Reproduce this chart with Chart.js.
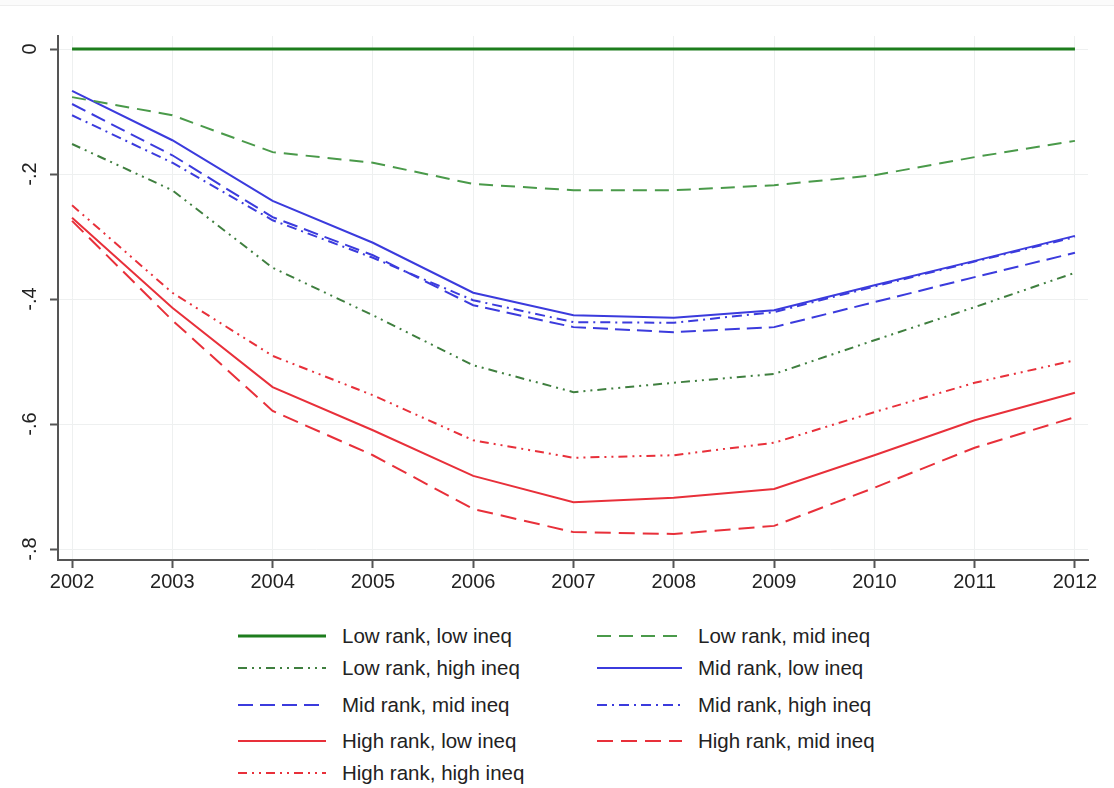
<!DOCTYPE html>
<html>
<head>
<meta charset="utf-8">
<title>Effects by rank and inequality, 2002-2012</title>
<script src="https://cdn.jsdelivr.net/npm/chart.js@4/dist/chart.umd.min.js"></script>
<style>
  html, body { margin: 0; padding: 0; background: #ffffff; }
  body { width: 1114px; height: 788px; position: relative; overflow: hidden;
         font-family: "Liberation Sans", Arial, Helvetica, sans-serif; }
  #topline { position: absolute; left: 0; top: 0; width: 1114px; height: 5px;
             background: #fbfbfb; border-bottom: 1px solid #eeeeee; }
  #wrap { position: absolute; left: 0; top: 0; width: 1114px; height: 600px; }
  .lg { position: absolute; height: 30px; display: flex; align-items: center; }
  .lg svg { display: block; }
  .lg span { font-size: 20.5px; color: #222; white-space: nowrap; margin-left: 16px; }
</style>
</head>
<body>
<div id="topline"></div>
<div id="wrap"><canvas id="c"></canvas></div>
<div id="legend"></div>
<script>
// Years on the horizontal axis
const years = [2002, 2003, 2004, 2005, 2006, 2007, 2008, 2009, 2010, 2011, 2012];

// Y axis tick values and their labels
const yTickValues = [0, -0.2, -0.4, -0.6, -0.8];
const yTickLabels = ["0", "-.2", "-.4", "-.6", "-.8"];

// Series values by group (rank x inequality)
const lowRankLowIneq   = [0, 0, 0, 0, 0, 0, 0, 0, 0, 0, 0];
const lowRankMidIneq   = [-0.077, -0.106, -0.165, -0.182, -0.216, -0.226, -0.226, -0.218, -0.202, -0.173, -0.147];
const lowRankHighIneq  = [-0.152, -0.226, -0.350, -0.426, -0.506, -0.549, -0.534, -0.520, -0.466, -0.413, -0.358];
const midRankLowIneq   = [-0.067, -0.146, -0.243, -0.310, -0.390, -0.426, -0.430, -0.418, -0.378, -0.339, -0.299];
const midRankMidIneq   = [-0.088, -0.170, -0.269, -0.330, -0.410, -0.445, -0.453, -0.445, -0.405, -0.365, -0.326];
const midRankHighIneq  = [-0.106, -0.182, -0.274, -0.334, -0.402, -0.437, -0.438, -0.421, -0.380, -0.340, -0.301];
const highRankLowIneq  = [-0.270, -0.414, -0.541, -0.610, -0.683, -0.725, -0.718, -0.704, -0.650, -0.594, -0.550];
const highRankMidIneq  = [-0.275, -0.434, -0.579, -0.650, -0.736, -0.773, -0.776, -0.763, -0.702, -0.638, -0.589];
const highRankHighIneq = [-0.250, -0.390, -0.491, -0.554, -0.626, -0.654, -0.650, -0.630, -0.581, -0.534, -0.498];

// Series names, in legend order
const seriesNames = [
  "Low rank, low ineq", "Low rank, mid ineq",
  "Low rank, high ineq", "Mid rank, low ineq",
  "Mid rank, mid ineq", "Mid rank, high ineq",
  "High rank, low ineq", "High rank, mid ineq",
  "High rank, high ineq"
];
const seriesValues = [
  lowRankLowIneq, lowRankMidIneq, lowRankHighIneq,
  midRankLowIneq, midRankMidIneq, midRankHighIneq,
  highRankLowIneq, highRankMidIneq, highRankHighIneq
];

// Line styling per series
const GREEN = "#1d7d1d", GREEN2 = "#4a9a4a", GREEN3 = "#3f7f3f";
const BLUE = "#3b3bdd", RED = "#e8303a";
const styles = [
  { color: GREEN,  width: 3,   dash: [] },
  { color: GREEN2, width: 2,   dash: [14, 8] },
  { color: GREEN3, width: 2,   dash: [9, 5, 2, 5, 2, 5] },
  { color: BLUE,   width: 2,   dash: [] },
  { color: BLUE,   width: 2,   dash: [15, 7] },
  { color: BLUE,   width: 2,   dash: [10, 5, 2, 5] },
  { color: RED,    width: 2,   dash: [] },
  { color: RED,    width: 2,   dash: [16, 8] },
  { color: RED,    width: 2,   dash: [9, 5, 2, 5, 2, 5] }
];

const datasets = seriesNames.map((name, i) => ({
  label: name,
  data: years.map((yr, j) => ({ x: yr, y: seriesValues[i][j] })),
  borderColor: styles[i].color,
  borderWidth: styles[i].width,
  borderDash: styles[i].dash,
  pointRadius: 0,
  pointHoverRadius: 0,
  tension: 0,
  fill: false
}));

const tickFont = { family: "'Liberation Sans', Arial, Helvetica, sans-serif", size: 20 };

// Rotated y-axis labels, placed at the scale's own tick pixels
const rotatedYLabels = {
  id: "rotatedYLabels",
  afterDraw(chart) {
    const ys = chart.scales.y;
    const ctx = chart.ctx;
    ctx.save();
    ctx.fillStyle = "#222";
    ctx.font = "20px 'Liberation Sans', Arial, Helvetica, sans-serif";
    ctx.textAlign = "center";
    ctx.textBaseline = "middle";
    yTickValues.forEach((v, i) => {
      const py = ys.getPixelForValue(v);
      ctx.save();
      ctx.translate(30, py);
      ctx.rotate(-Math.PI / 2);
      ctx.fillText(yTickLabels[i], 0, 0);
      ctx.restore();
    });
    ctx.restore();
  }
};

new Chart(document.getElementById("c"), {
  type: "line",
  data: { datasets },
  options: {
    responsive: true,
    maintainAspectRatio: false,
    animation: false,
    events: [],
    layout: { padding: { top: 36, right: 26, left: 0, bottom: 0 } },
    plugins: { legend: { display: false }, tooltip: { enabled: false } },
    scales: {
      x: {
        type: "linear",
        min: 2001.86,
        max: 2012.13,
        afterFit(scale) { scale.height = 40; },
        afterBuildTicks(scale) { scale.ticks = years.map(v => ({ value: v })); },
        ticks: {
          includeBounds: false,
          autoSkip: false,
          maxRotation: 0,
          minRotation: 0,
          padding: 2,
          color: "#222",
          font: tickFont,
          callback: (v) => String(v)
        },
        grid: { color: "#eef0f0", lineWidth: 1, tickLength: 8, tickColor: "#555", tickWidth: 2 },
        border: { color: "#555", width: 2 }
      },
      y: {
        type: "linear",
        min: -0.8176,
        max: 0.0208,
        afterFit(scale) { scale.width = 58; },
        afterBuildTicks(scale) { scale.ticks = yTickValues.map(v => ({ value: v })); },
        ticks: { display: false },
        grid: { color: "#eef0f0", lineWidth: 1, tickLength: 8, tickColor: "#555", tickWidth: 2 },
        border: { color: "#555", width: 2 }
      }
    }
  },
  plugins: [rotatedYLabels]
});

// Two-column legend below the plot
const legendRows = [636, 668, 705, 741, 773];
const legendEl = document.getElementById("legend");
seriesNames.forEach((name, i) => {
  const col = i % 2, row = Math.floor(i / 2);
  const left = col === 0 ? 238 : 597;
  const w = col === 0 ? 88 : 85;
  const item = document.createElement("div");
  item.className = "lg";
  item.style.left = left + "px";
  item.style.top = (legendRows[row] - 15) + "px";
  const s = styles[i];
  item.innerHTML =
    '<svg width="' + w + '" height="10"><line x1="0" y1="5" x2="' + w + '" y2="5" stroke="' + s.color +
    '" stroke-width="' + s.width + '" stroke-dasharray="' + (s.dash.length ? s.dash.join(",") : "none") +
    '"/></svg><span>' + name + '</span>';
  legendEl.appendChild(item);
});
</script>
</body>
</html>
